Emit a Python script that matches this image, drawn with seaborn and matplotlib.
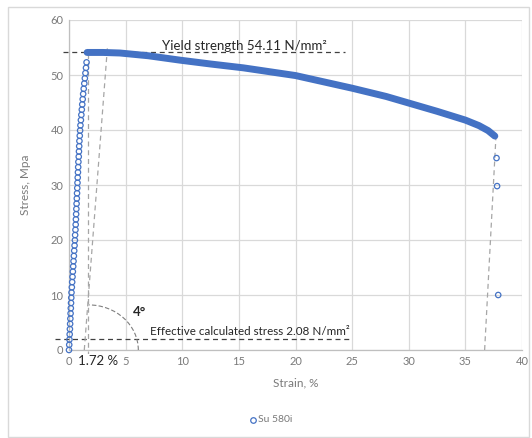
import matplotlib
matplotlib.use("Agg")
import matplotlib.pyplot as plt
import seaborn as sns
import pandas as pd
from matplotlib.patches import Arc, Rectangle
from matplotlib.lines import Line2D

sns.set_theme(style="whitegrid")
plt.rcParams['font.family'] = ['Lato', 'DejaVu Sans']

# elastic (initial) region: open circles
elastic_strain = [0.0, 0.02, 0.04, 0.06, 0.08, 0.10, 0.12, 0.14, 0.16, 0.18,
                  0.20, 0.22, 0.25, 0.28, 0.31, 0.34, 0.37, 0.40, 0.43, 0.46,
                  0.49, 0.52, 0.54, 0.57, 0.59, 0.61, 0.63, 0.65, 0.67, 0.69,
                  0.71, 0.73, 0.75, 0.77, 0.79, 0.81, 0.83, 0.86, 0.88, 0.90,
                  0.92, 0.95, 0.98, 1.01, 1.05, 1.09, 1.13, 1.17, 1.21, 1.25,
                  1.30, 1.35, 1.40, 1.45, 1.50, 1.55]
elastic_stress = [0.0, 0.95, 1.9, 2.85, 3.8, 4.75, 5.7, 6.65, 7.6, 8.55,
                  9.5, 10.45, 11.4, 12.35, 13.3, 14.25, 15.2, 16.15, 17.1, 18.05,
                  19.0, 19.95, 20.9, 21.85, 22.8, 23.75, 24.7, 25.65, 26.6, 27.55,
                  28.5, 29.45, 30.4, 31.35, 32.3, 33.25, 34.2, 35.15, 36.1, 37.05,
                  38.0, 38.95, 39.9, 40.85, 41.8, 42.75, 43.7, 44.65, 45.6, 46.55,
                  47.5, 48.45, 49.4, 50.35, 51.3, 52.3]

# plastic region (dense markers, appears as a thick line)
plastic_strain = [1.6, 3.0, 4.5, 7.0, 9.8, 12.5, 15.4, 20.0, 25.0, 28.0, 30.0,
                  32.5, 35.0, 36.2, 37.0, 37.6]
plastic_stress = [54.1, 54.1, 54.0, 53.5, 52.7, 52.0, 51.3, 49.9, 47.6, 46.1, 44.9,
                  43.4, 41.8, 40.8, 39.9, 38.9]

# fracture tail points
tail_strain = [37.75, 37.8, 37.9]
tail_stress = [34.9, 29.8, 10.0]

x_ticks = [0, 5, 10, 15, 20, 25, 30, 35, 40]
y_ticks = [0, 10, 20, 30, 40, 50, 60]

yield_strength = 54.11
effective_stress = 2.08
offset_strain = 1.72

blue = "#4472C4"
grid_c = "#D9D9D9"
txt_c = "#7A7A7A"
dark = "#262626"

fig = plt.figure(figsize=(5.32, 4.38), dpi=100)
fig.patch.set_facecolor("white")
fig.add_artist(Rectangle((8/532, 1-437/438), (529-8)/532, (437-7)/438,
                         transform=fig.transFigure, fill=False,
                         edgecolor="#D9D9D9", linewidth=1))
ax = fig.add_axes([69/532, 1-350/438, (522-69)/532, (350-20)/438])

df_el = pd.DataFrame({"strain": elastic_strain, "stress": elastic_stress})
df_pl = pd.DataFrame({"strain": plastic_strain, "stress": plastic_stress})
df_tl = pd.DataFrame({"strain": tail_strain, "stress": tail_stress})

# reference dashed lines
ax.plot([-0.5, 24.4], [yield_strength, yield_strength], ls=(0, (4, 3)),
        color="#404040", lw=0.9, clip_on=False, zorder=3)
ax.plot([-1.2, 24.8], [effective_stress, effective_stress], ls=(0, (4, 3)),
        color="#404040", lw=0.9, clip_on=False, zorder=3)
ax.plot([offset_strain, offset_strain], [-1.0, 54.5], ls=(0, (4, 3)),
        color="#A6A6A6", lw=0.9, clip_on=False, zorder=3)
ax.plot([1.35, 3.4], [0, 55.2], ls=(0, (4, 3)),
        color="#A6A6A6", lw=0.9, zorder=3)
ax.plot([36.7, 37.7], [0, 38.8], ls=(0, (4, 3)),
        color="#A6A6A6", lw=0.9, zorder=3)
ax.add_patch(Arc((offset_strain, 0), 2*4.4, 2*8.2, theta1=0, theta2=90,
                 ls=(0, (4, 2)), color="#7F7F7F", lw=0.8, zorder=3))

sns.lineplot(data=df_pl, x="strain", y="stress", ax=ax, color=blue, lw=5,
             solid_capstyle="round", solid_joinstyle="round", zorder=4,
             legend=False, sort=False)
sns.scatterplot(data=df_el, x="strain", y="stress", ax=ax, marker="o",
                s=15, facecolor="none", edgecolor=blue, linewidth=0.9,
                zorder=5, clip_on=False)
sns.scatterplot(data=df_tl, x="strain", y="stress", ax=ax, marker="o",
                s=15, facecolor="none", edgecolor=blue, linewidth=0.9,
                zorder=5, clip_on=False)

ax.set_xlim(0, 40)
ax.set_ylim(0, 60)
ax.set_xticks(x_ticks)
ax.set_yticks(y_ticks)
ax.grid(True, color=grid_c, lw=0.9)
ax.set_facecolor("white")
for s in ["top", "right"]:
    ax.spines[s].set_visible(False)
for s in ["left", "bottom"]:
    ax.spines[s].set_color("#BFBFBF")
    ax.spines[s].set_linewidth(0.9)
ax.tick_params(axis="both", labelsize=8, colors=txt_c, length=0, pad=4)
ax.set_xlabel("Strain, %", fontsize=8.5, color=txt_c, labelpad=8)
ax.set_ylabel("Stress, Mpa", fontsize=8.5, color=txt_c, labelpad=14)

ax.text(15.5, 54.6, "Yield strength 54.11 N/mm²", fontsize=9.5, color=dark,
        ha="center", va="baseline", zorder=6)
ax.text(16.0, 2.7, "Effective calculated stress 2.08 N/mm²", fontsize=8.4,
        color=dark, ha="center", va="baseline", zorder=6)
ax.text(6.2, 7.0, "4°", fontsize=9.5, color=dark, ha="center", va="center",
        fontweight="bold", zorder=6)
ax.text(2.6, -2.0, "1.72 %", fontsize=9.5, color=dark, ha="center",
        va="center", zorder=6, clip_on=False,
        bbox=dict(facecolor="white", edgecolor="none", pad=0.5))

# legend
fig.add_artist(Line2D([253/532], [1-420/438], marker="o", markersize=4,
                      markerfacecolor="none", markeredgecolor=blue,
                      markeredgewidth=0.9, transform=fig.transFigure))
fig.text(258/532, 1-420/438, "Su 580i", color=txt_c, fontsize=7.5, ha="left", va="center")

fig.savefig("out.png", dpi=100)
